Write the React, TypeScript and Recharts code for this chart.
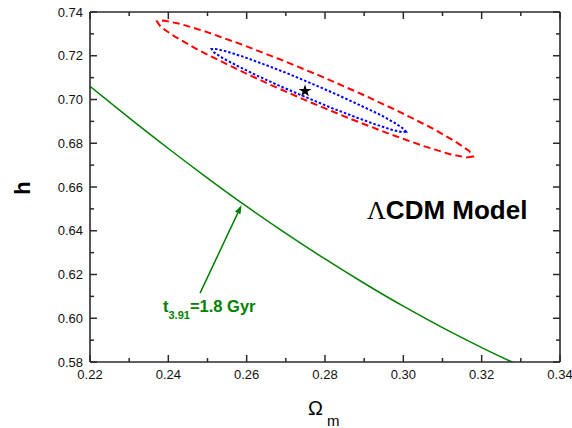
import { ComposedChart, Line, Scatter, XAxis, YAxis, ZAxis, ReferenceLine } from 'recharts'

// axis ticks (every other one is labelled)
const omegaTicks = [0.22, 0.23, 0.24, 0.25, 0.26, 0.27, 0.28, 0.29, 0.3, 0.31, 0.32, 0.33, 0.34]
const hTicks = [0.58, 0.59, 0.6, 0.61, 0.62, 0.63, 0.64, 0.65, 0.66, 0.67, 0.68, 0.69, 0.7, 0.71, 0.72, 0.73, 0.74]

// age constraint curve t_3.91 = 1.8 Gyr
const ageOmega = [0.22, 0.23, 0.24, 0.25, 0.26, 0.27, 0.28, 0.29, 0.3, 0.31, 0.32, 0.33]
const ageH = [0.706, 0.6916, 0.6776, 0.6641, 0.6511, 0.6388, 0.6271, 0.616, 0.6055, 0.5957, 0.5866, 0.5781]

// outer (red dashed) confidence contour
const outerOmega = [0.3178, 0.3161, 0.3117, 0.305, 0.2964, 0.2866, 0.276, 0.2656, 0.2561, 0.2479, 0.2418, 0.2381,
  0.2371, 0.2388, 0.2432, 0.2499, 0.2585, 0.2683, 0.2789, 0.2893, 0.2989, 0.307, 0.3131, 0.3168]
const outerH = [0.6739, 0.6735, 0.6751, 0.6788, 0.6843, 0.6911, 0.6989, 0.7071, 0.7151, 0.7224, 0.7286, 0.7331,
  0.7357, 0.7361, 0.7345, 0.7308, 0.7253, 0.7185, 0.7107, 0.7025, 0.6945, 0.6872, 0.681, 0.6765]

// inner (blue dotted) confidence contour
const innerOmega = [0.3007, 0.2997, 0.297, 0.2929, 0.2877, 0.2816, 0.2752, 0.2688, 0.2628, 0.2578, 0.254, 0.2517,
  0.2511, 0.2521, 0.2548, 0.2589, 0.2641, 0.2702, 0.2766, 0.283, 0.2889, 0.294, 0.2977, 0.3]
const innerH = [0.6853, 0.6851, 0.6862, 0.6886, 0.692, 0.6962, 0.701, 0.7059, 0.7108, 0.7152, 0.7188, 0.7215,
  0.723, 0.7231, 0.722, 0.7197, 0.7163, 0.7121, 0.7073, 0.7023, 0.6974, 0.6931, 0.6894, 0.6867]

const bestFitOmega = [0.2749]
const bestFitH = [0.7039]

// arrow from the label to the curve
const arrowOmega = [0.2481, 0.2587]
const arrowH = [0.6115, 0.6518]

const toPoints = (xs: number[], ys: number[]) => xs.map((x, i) => ({ x, y: ys[i] }))

const ageData = toPoints(ageOmega, ageH)
const outerData = toPoints(outerOmega, outerH)
const innerData = toPoints(innerOmega, innerH)
const bestFit = toPoints(bestFitOmega, bestFitH)
const arrow = toPoints(arrowOmega, arrowH)

const FONT = '"Liberation Sans", Arial, Helvetica, sans-serif'
const AXIS = '#2a2a2a'
const GREEN = '#008000'
const W = 572
const H = 428

const isMajor = (v: number) => Math.round(v * 100) % 2 === 0
const tickLen = (v: number) => (isMajor(v) ? 7 : 4)

const BottomTick = ({ x, y, payload }: any) => (
  <g>
    <line x1={x} x2={x} y1={y} y2={y - tickLen(payload.value)} stroke={AXIS} strokeWidth={1.5} />
    {isMajor(payload.value) && (
      <text x={x} y={y + 17} textAnchor="middle" fontSize={13} fontFamily={FONT} fill="#111">
        {payload.value.toFixed(2)}
      </text>
    )}
  </g>
)

const TopTick = ({ x, y, payload }: any) => (
  <line x1={x} x2={x} y1={y} y2={y + tickLen(payload.value)} stroke={AXIS} strokeWidth={1.5} />
)

const LeftTick = ({ x, y, payload }: any) => (
  <g>
    <line x1={x} x2={x + tickLen(payload.value)} y1={y} y2={y} stroke={AXIS} strokeWidth={1.5} />
    {isMajor(payload.value) && (
      <text x={x - 7} y={y + 4.5} textAnchor="end" fontSize={13} fontFamily={FONT} fill="#111">
        {payload.value.toFixed(2)}
      </text>
    )}
  </g>
)

const RightTick = ({ x, y, payload }: any) => (
  <line x1={x} x2={x - tickLen(payload.value)} y1={y} y2={y} stroke={AXIS} strokeWidth={1.5} />
)

const ArrowShape = ({ x1, y1, x2, y2 }: any) => {
  const dx = x2 - x1
  const dy = y2 - y1
  const len = Math.sqrt(dx * dx + dy * dy) || 1
  const ux = dx / len
  const uy = dy / len
  const bx = x2 - ux * 9
  const by = y2 - uy * 9
  return (
    <g>
      <line x1={x1} y1={y1} x2={bx} y2={by} stroke={GREEN} strokeWidth={1.5} />
      <polygon
        points={`${x2},${y2} ${bx - uy * 3},${by + ux * 3} ${bx + uy * 3},${by - ux * 3}`}
        fill={GREEN}
      />
    </g>
  )
}

export default function App() {
  return (
    <div style={{ position: 'absolute', left: 0, top: 0, width: W, height: H, overflow: 'hidden' }}>
      <ComposedChart width={W} height={H} margin={{ top: 0, right: 0, bottom: 0, left: 0 }}>
        <XAxis
          type="number"
          dataKey="x"
          domain={[0.22, 0.34]}
          ticks={omegaTicks}
          interval={0}
          allowDataOverflow
          height={66}
          tickSize={0}
          tickMargin={0}
          tickLine={false}
          tick={<BottomTick />}
          axisLine={{ stroke: AXIS, strokeWidth: 1.6 }}
          label={({ viewBox }: any) => (
            <text x={viewBox.x + 218} y={viewBox.y + 53} fontFamily={FONT} fill="#000">
              <tspan fontSize={20}>Ω</tspan>
              <tspan fontSize={15} dy={11} dx={4}>m</tspan>
            </text>
          )}
        />
        <XAxis
          xAxisId="top"
          orientation="top"
          type="number"
          dataKey="x"
          domain={[0.22, 0.34]}
          ticks={omegaTicks}
          interval={0}
          allowDataOverflow
          height={12}
          tickSize={0}
          tickMargin={0}
          tickLine={false}
          tick={<TopTick />}
          axisLine={{ stroke: AXIS, strokeWidth: 1.6 }}
        />
        <YAxis
          type="number"
          dataKey="y"
          domain={[0.58, 0.74]}
          ticks={hTicks}
          interval={0}
          allowDataOverflow
          width={90}
          tickSize={0}
          tickMargin={0}
          tickLine={false}
          tick={<LeftTick />}
          axisLine={{ stroke: AXIS, strokeWidth: 1.6 }}
          label={({ viewBox }: any) => {
            const lx = viewBox.x + 30
            const ly = viewBox.y + viewBox.height / 2 + 1
            return (
              <text
                x={lx}
                y={ly}
                transform={`rotate(-90, ${lx}, ${ly})`}
                textAnchor="middle"
                fontSize={22}
                fontWeight="bold"
                fontFamily={FONT}
                fill="#000"
              >
                h
              </text>
            )
          }}
        />
        <YAxis
          yAxisId="right"
          orientation="right"
          type="number"
          domain={[0.58, 0.74]}
          ticks={hTicks}
          interval={0}
          allowDataOverflow
          width={12}
          tickSize={0}
          tickMargin={0}
          tickLine={false}
          tick={<RightTick />}
          axisLine={{ stroke: AXIS, strokeWidth: 1.6 }}
        />
        <ZAxis range={[50, 50]} />
        <Line
          data={outerData}
          dataKey="y"
          type="linearClosed"
          stroke="#ff0000"
          strokeWidth={2}
          strokeDasharray="7 4"
          dot={false}
          activeDot={false}
          isAnimationActive={false}
        />
        <Line
          data={innerData}
          dataKey="y"
          type="linearClosed"
          stroke="#0000ff"
          strokeWidth={2}
          strokeDasharray="2.5 2"
          dot={false}
          activeDot={false}
          isAnimationActive={false}
        />
        <Line
          data={ageData}
          dataKey="y"
          type="monotone"
          stroke={GREEN}
          strokeWidth={1.5}
          dot={false}
          activeDot={false}
          isAnimationActive={false}
        />
        <ReferenceLine
          segment={arrow}
          stroke={GREEN}
          ifOverflow="visible"
          shape={(p: any) => <ArrowShape {...p} />}
        />
        <Scatter data={bestFit} dataKey="y" shape="star" fill="#000" isAnimationActive={false} />
      </ComposedChart>
      <svg width={W} height={H} style={{ position: 'absolute', left: 0, top: 0, pointerEvents: 'none' }}>
        <text x={367} y={219} fontSize={26} fontWeight="bold" fontFamily={FONT} fill="#000">
          <tspan fontFamily='"Liberation Serif", "Times New Roman", serif' fontWeight="normal">Λ</tspan>
          <tspan>CDM Model</tspan>
        </text>
        <text x={163} y={312} fontWeight="bold" fontFamily={FONT} fill={GREEN}>
          <tspan fontSize={16.5}>t</tspan>
          <tspan fontSize={11} dy={7}>3.91</tspan>
          <tspan fontSize={16.5} dy={-7}>=1.8 Gyr</tspan>
        </text>
      </svg>
    </div>
  )
}
